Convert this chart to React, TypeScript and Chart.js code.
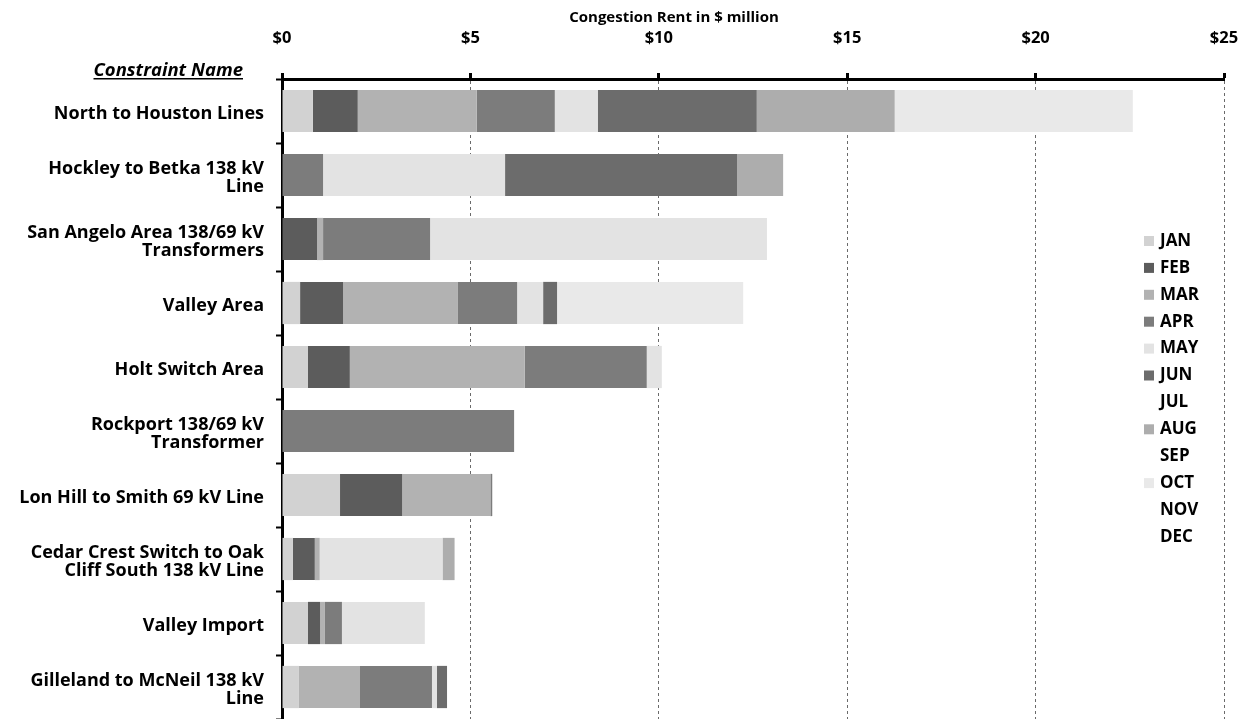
import React, { useEffect, useRef } from 'react';
import { Chart, registerables } from 'chart.js';

Chart.register(...registerables);

const categories: (string | string[])[] = [
  'North to Houston Lines',
  ['Hockley to Betka 138 kV', 'Line'],
  ['San Angelo Area 138/69 kV', 'Transformers'],
  'Valley Area',
  'Holt Switch Area',
  ['Rockport 138/69 kV', 'Transformer'],
  'Lon Hill to Smith 69 kV Line',
  ['Cedar Crest Switch to Oak', 'Cliff South 138 kV Line'],
  'Valley Import',
  ['Gilleland to McNeil 138 kV', 'Line'],
];

const months = ['JAN', 'FEB', 'MAR', 'APR', 'MAY', 'JUN', 'JUL', 'AUG', 'SEP', 'OCT', 'NOV', 'DEC'];

// $ million per constraint, one array per month
const jan = [0.82, 0, 0, 0.48, 0.69, 0, 1.54, 0.29, 0.69, 0.45];
const feb = [1.19, 0, 0.93, 1.14, 1.11, 0, 1.65, 0.58, 0.32, 0];
const mar = [3.16, 0, 0.16, 3.05, 4.64, 0, 2.34, 0.13, 0.13, 1.62];
const apr = [2.07, 1.09, 2.84, 1.57, 3.24, 6.16, 0.05, 0, 0.45, 1.91];
const may = [1.14, 4.83, 8.94, 0.69, 0.4, 0, 0, 3.26, 2.2, 0.13];
const jun = [4.22, 6.16, 0, 0.37, 0, 0, 0, 0, 0, 0.27];
const jul = [0, 0, 0, 0, 0, 0, 0, 0, 0, 0];
const aug = [3.66, 1.22, 0, 0, 0, 0, 0, 0.32, 0, 0];
const sep = [0, 0, 0, 0, 0, 0, 0, 0, 0, 0];
const oct = [6.32, 0, 0, 4.94, 0, 0, 0, 0, 0, 0];
const nov = [0, 0, 0, 0, 0, 0, 0, 0, 0, 0];
const dec = [0, 0, 0, 0, 0, 0, 0, 0, 0, 0];

const seriesValues = [jan, feb, mar, apr, may, jun, jul, aug, sep, oct, nov, dec];

const xTickValues = [0, 5, 10, 15, 20, 25];

const monthColors = [
  '#d2d2d2', '#5c5c5c', '#b2b2b2', '#7c7c7c', '#e3e3e3', '#6c6c6c',
  '#ffffff', '#adadad', '#ffffff', '#e9e9e9', '#ffffff', '#ffffff',
];

const FONT = '"Open Sans", Lato, sans-serif';

const overlayPlugin = {
  id: 'overlayTexts',
  afterDraw(chart: any) {
    const ctx = chart.ctx as CanvasRenderingContext2D;
    ctx.save();
    // axis title
    ctx.fillStyle = '#000';
    ctx.font = `bold 15px ${FONT}`;
    ctx.textAlign = 'center';
    ctx.textBaseline = 'middle';
    ctx.fillText('Congestion Rent in $ million', 674, 18);
    // constraint name header
    ctx.font = `italic bold 18.5px ${FONT}`;
    ctx.textAlign = 'right';
    ctx.textBaseline = 'alphabetic';
    ctx.fillText('Constraint Name', 243, 76);
    const w = ctx.measureText('Constraint Name').width;
    ctx.fillRect(243 - w, 78, w, 1.5);
    // legend
    ctx.font = `bold 17px ${FONT}`;
    ctx.textAlign = 'left';
    ctx.textBaseline = 'middle';
    chart.data.datasets.forEach((ds: any, i: number) => {
      const y = 241 + i * 26.9;
      ctx.fillStyle = ds.backgroundColor;
      ctx.fillRect(1144, y - 5, 10, 10);
      ctx.fillStyle = '#000';
      ctx.fillText(ds.label, 1160, y);
    });
    ctx.restore();
  },
};

export default function App() {
  const canvasRef = useRef<HTMLCanvasElement | null>(null);

  useEffect(() => {
    const canvas = canvasRef.current;
    if (!canvas) return;
    const chart = new Chart(canvas, {
      type: 'bar',
      data: {
        labels: categories,
        datasets: months.map((m, i) => ({
          label: m,
          data: seriesValues[i],
          backgroundColor: monthColors[i],
          borderWidth: 0,
          barPercentage: 0.66,
          categoryPercentage: 1,
        })),
      },
      options: {
        indexAxis: 'y',
        responsive: false,
        animation: false,
        layout: { padding: 0 },
        plugins: {
          legend: { display: false },
          tooltip: { enabled: false },
          title: { display: false },
        },
        scales: {
          x: {
            position: 'top',
            stacked: true,
            min: 0,
            max: 25,
            afterBuildTicks(scale: any) {
              scale.ticks = xTickValues.map((v) => ({ value: v }));
            },
            afterFit(scale: any) {
              scale.height = 79;
              scale.paddingRight = 19;
              scale.paddingLeft = 0;
            },
            ticks: {
              color: '#000',
              padding: 25,
              font: { family: FONT, size: 16.5, weight: 'bold' },
              callback: (v: any) => '$' + v,
            },
            grid: {
              color: '#6a6a6a',
              lineWidth: 1,
              drawTicks: true,
              tickLength: 6,
              tickColor: '#000',
              tickWidth: 3,
              tickBorderDash: [],
            },
            border: { display: true, color: '#000', width: 3, dash: [3, 3] },
          },
          y: {
            stacked: true,
            afterFit(scale: any) {
              scale.width = 282;
              scale.paddingTop = 0;
              scale.paddingBottom = 0;
            },
            ticks: {
              color: '#000',
              padding: 12,
              labelOffset: 3,
              font: { family: FONT, size: 18, weight: 'bold', lineHeight: 1.04 },
            },
            grid: {
              drawOnChartArea: false,
              drawTicks: true,
              tickLength: 6,
              tickColor: '#000',
              tickWidth: 2,
              offset: true,
            },
            border: { display: true, color: '#000', width: 3 },
          },
        },
      },
      plugins: [overlayPlugin],
    } as any);
    return () => chart.destroy();
  }, []);

  return (
    <div style={{ position: 'fixed', left: 0, top: 0, width: 1243, height: 719, background: '#fff' }}>
      <canvas ref={canvasRef} width={1243} height={719} style={{ display: 'block' }} />
    </div>
  );
}
